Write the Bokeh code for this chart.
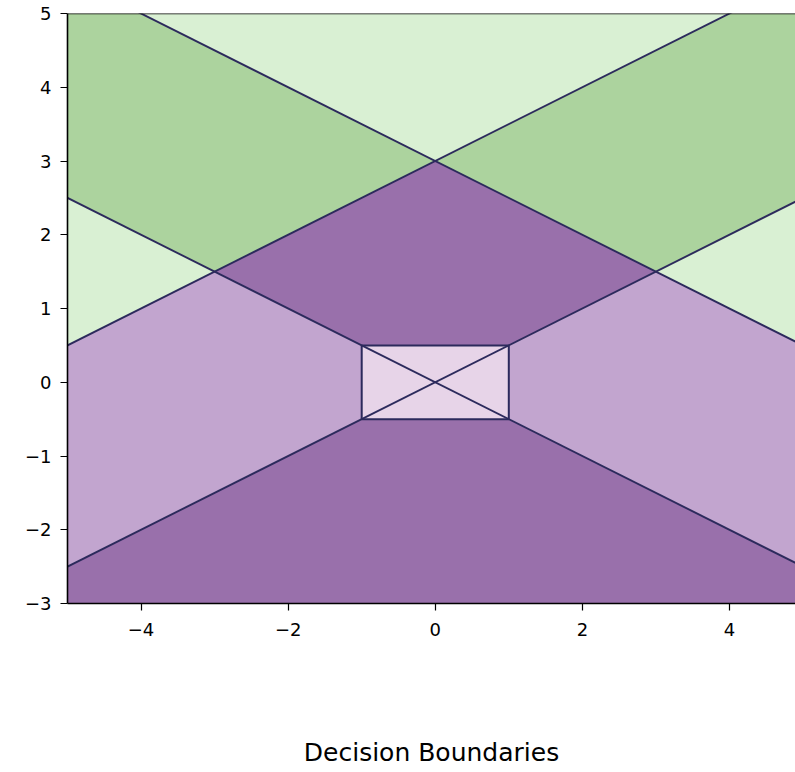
from bokeh.plotting import figure
from bokeh.models import Range1d, FixedTicker, Span
from bokeh.embed import file_html
from bokeh.resources import INLINE

# ---- data -------------------------------------------------------------
# decision regions (polygon vertices in data units) and their colours
region_names = ["top", "upper-left", "upper-right", "left-wedge", "right-wedge",
                "centre-upper", "left", "right", "bottom", "box"]
region_xs = [
    [-4, 0, 4],
    [-5, -4, 0, -3, -5],
    [4, 5, 5, 3, 0],
    [-5, -3, -5],
    [5, 3, 5],
    [0, -3, -1, 1, 3],
    [-5, -3, -1, -1, -5],
    [5, 3, 1, 1, 5],
    [-5, -1, 1, 5, 5, -5],
    [-1, 1, 1, -1],
]
region_ys = [
    [5, 3, 5],
    [5, 5, 3, 1.5, 2.5],
    [5, 5, 2.5, 1.5, 3],
    [2.5, 1.5, 0.5],
    [2.5, 1.5, 0.5],
    [3, 1.5, 0.5, 0.5, 1.5],
    [0.5, 1.5, 0.5, -0.5, -2.5],
    [0.5, 1.5, 0.5, -0.5, -2.5],
    [-2.5, -0.5, -0.5, -2.5, -3, -3],
    [-0.5, -0.5, 0.5, 0.5],
]
region_colors = ["#d9f0d3", "#acd39e", "#acd39e", "#d9f0d3", "#d9f0d3",
                 "#9970ab", "#c2a5cf", "#c2a5cf", "#9970ab", "#e7d4e8"]

# boundary lines y = slope * x + intercept
line_slopes = [-0.5, 0.5, -0.5, 0.5]
line_intercepts = [0.0, 0.0, 3.0, 3.0]
line_x0, line_x1 = -6.0, 6.0

# central box
box_left, box_right = -1.0, 1.0
box_bottom, box_top = -0.5, 0.5

x_ticks = [-4, -2, 0, 2, 4]
y_ticks = [-3, -2, -1, 0, 1, 2, 3, 4, 5]
title_text = "Decision Boundaries"

# ---- figure -----------------------------------------------------------
FONT = "DejaVu Sans"
LINE = "#2c2a5c"

p = figure(width=795, height=772, output_backend="svg", toolbar_location=None,
           x_range=Range1d(-5, 4.898), y_range=Range1d(-3, 5),
           min_border_left=67, min_border_right=0, min_border_top=13,
           min_border_bottom=169)
p.title = None
p.outline_line_color = None
p.grid.visible = False
p.background_fill_color = "white"

p.patches(region_xs, region_ys, fill_color=region_colors, line_color=None)

xs0 = [line_x0] * len(line_slopes)
xs1 = [line_x1] * len(line_slopes)
ys0 = [m * line_x0 + b for m, b in zip(line_slopes, line_intercepts)]
ys1 = [m * line_x1 + b for m, b in zip(line_slopes, line_intercepts)]
p.segment(xs0, ys0, xs1, ys1, line_color=LINE, line_width=1.9)

p.quad(left=[box_left], right=[box_right], bottom=[box_bottom], top=[box_top],
       fill_color=None, line_color=LINE, line_width=2.0)

p.add_layout(Span(location=5, dimension="width", line_color="black", line_width=1.6))

for ax, ticks in ((p.xaxis[0], x_ticks), (p.yaxis[0], y_ticks)):
    ax.ticker = FixedTicker(ticks=ticks)
    ax.major_label_overrides = {t: str(t).replace("-", "\u2212") for t in ticks}
    ax.minor_tick_line_color = None
    ax.major_tick_out = 7
    ax.major_tick_in = 0
    ax.major_tick_line_color = "black"
    ax.major_tick_line_width = 1.2
    ax.axis_line_color = "black"
    ax.axis_line_width = 1.6
    ax.major_label_text_font = FONT
    ax.major_label_text_font_size = "18px"
    ax.major_label_text_color = "black"

p.xaxis[0].major_label_standoff = 12
p.yaxis[0].major_label_standoff = 9

# the chart's title sits far below the x axis
xa = p.xaxis[0]
xa.axis_label = title_text
xa.axis_label_text_font = FONT
xa.axis_label_text_font_size = "25px"
xa.axis_label_text_font_style = "normal"
xa.axis_label_text_color = "black"
xa.axis_label_standoff = 99

open("out.html", "w").write(file_html(p, INLINE))
